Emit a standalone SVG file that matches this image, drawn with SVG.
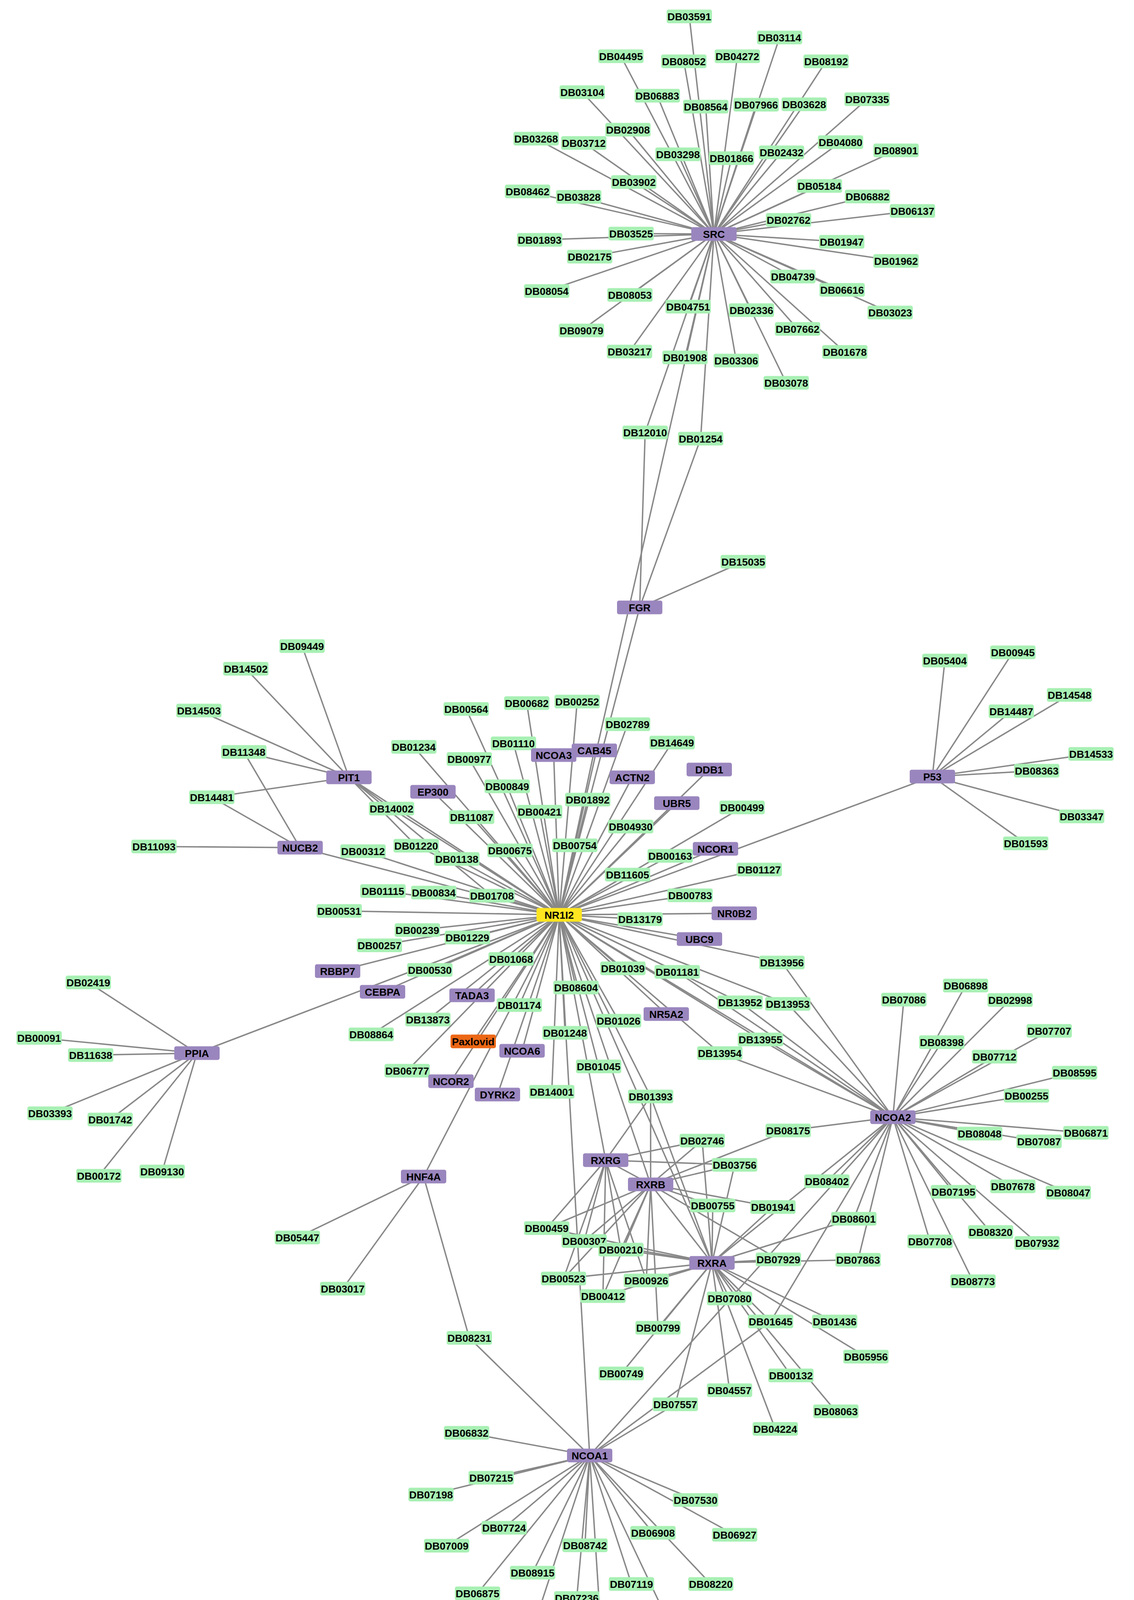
<svg xmlns="http://www.w3.org/2000/svg" width="2902" height="4282" viewBox="0 0 2902 4282">
<style>
.e line{stroke:#888888;stroke-width:3.6}
.d{fill:#A8F0B4}
.g{fill:#9A86BE}
.h{fill:#FFE620}
.p{fill:#EC6715}
text{font-family:"Liberation Sans",Arial,sans-serif;font-size:26.5px;font-weight:bold;text-anchor:middle;fill:#000000}
</style>
<defs>
<rect id="box" x="-58" y="-17.5" width="116" height="35" rx="5" ry="5"/>
</defs>
<rect width="2902" height="4282" fill="#ffffff"/>
<g id="edges" class="e">
<!-- SRC -->
<line x1="1827" y1="599" x2="1764" y2="42"/>
<line x1="1827" y1="599" x2="1589" y2="144"/>
<line x1="1827" y1="599" x2="1750" y2="157"/>
<line x1="1827" y1="599" x2="1887" y2="144"/>
<line x1="1827" y1="599" x2="1995" y2="96"/>
<line x1="1827" y1="599" x2="1490" y2="236"/>
<line x1="1827" y1="599" x2="1682" y2="245"/>
<line x1="1827" y1="599" x2="1806" y2="273"/>
<line x1="1827" y1="599" x2="1935" y2="268"/>
<line x1="1827" y1="599" x2="2058" y2="267"/>
<line x1="1827" y1="599" x2="2114" y2="157"/>
<line x1="1827" y1="599" x2="2219" y2="254"/>
<line x1="1827" y1="599" x2="1607" y2="332"/>
<line x1="1827" y1="599" x2="1372" y2="355"/>
<line x1="1827" y1="599" x2="1494" y2="366"/>
<line x1="1827" y1="599" x2="1735" y2="395"/>
<line x1="1827" y1="599" x2="1872" y2="405"/>
<line x1="1827" y1="599" x2="2000" y2="390"/>
<line x1="1827" y1="599" x2="2151" y2="364"/>
<line x1="1827" y1="599" x2="2293" y2="385"/>
<line x1="1827" y1="599" x2="1622" y2="466"/>
<line x1="1827" y1="599" x2="2097" y2="476"/>
<line x1="1827" y1="599" x2="2220" y2="503"/>
<line x1="1827" y1="599" x2="2335" y2="540"/>
<line x1="1827" y1="599" x2="1350" y2="490"/>
<line x1="1827" y1="599" x2="1481" y2="504"/>
<line x1="1827" y1="599" x2="2018" y2="563"/>
<line x1="1827" y1="599" x2="1381" y2="614"/>
<line x1="1827" y1="599" x2="1615" y2="598"/>
<line x1="1827" y1="599" x2="2154" y2="619"/>
<line x1="1827" y1="599" x2="2293" y2="668"/>
<line x1="1827" y1="599" x2="1509" y2="657"/>
<line x1="1827" y1="599" x2="2029" y2="708"/>
<line x1="1827" y1="599" x2="2155" y2="742"/>
<line x1="1827" y1="599" x2="2278" y2="800"/>
<line x1="1827" y1="599" x2="1399" y2="745"/>
<line x1="1827" y1="599" x2="1612" y2="755"/>
<line x1="1827" y1="599" x2="1488" y2="846"/>
<line x1="1827" y1="599" x2="1761" y2="785"/>
<line x1="1827" y1="599" x2="1923" y2="794"/>
<line x1="1827" y1="599" x2="2041" y2="842"/>
<line x1="1827" y1="599" x2="1611" y2="900"/>
<line x1="1827" y1="599" x2="1753" y2="915"/>
<line x1="1827" y1="599" x2="1884" y2="923"/>
<line x1="1827" y1="599" x2="2162" y2="901"/>
<line x1="1827" y1="599" x2="2012" y2="980"/>
<line x1="1827" y1="599" x2="1651" y2="1107"/>
<line x1="1827" y1="599" x2="1793" y2="1123"/>
<line x1="1827" y1="599" x2="1431" y2="2342"/>
<!-- FGR -->
<line x1="1637" y1="1555" x2="1651" y2="1107"/>
<line x1="1637" y1="1555" x2="1793" y2="1123"/>
<line x1="1637" y1="1555" x2="1902" y2="1438"/>
<line x1="1637" y1="1555" x2="1431" y2="2342"/>
<!-- P53 -->
<line x1="2386" y1="1988" x2="2418" y2="1691"/>
<line x1="2386" y1="1988" x2="2592" y2="1670"/>
<line x1="2386" y1="1988" x2="2737" y2="1779"/>
<line x1="2386" y1="1988" x2="2588" y2="1821"/>
<line x1="2386" y1="1988" x2="2792" y2="1930"/>
<line x1="2386" y1="1988" x2="2653" y2="1973"/>
<line x1="2386" y1="1988" x2="2768" y2="2090"/>
<line x1="2386" y1="1988" x2="2625" y2="2159"/>
<line x1="2386" y1="1988" x2="1431" y2="2342"/>
<!-- PIT1 / NUCB2 -->
<line x1="893" y1="1990" x2="773" y2="1654"/>
<line x1="893" y1="1990" x2="629" y2="1712"/>
<line x1="893" y1="1990" x2="509" y2="1819"/>
<line x1="893" y1="1990" x2="624" y2="1925"/>
<line x1="893" y1="1990" x2="542" y2="2041"/>
<line x1="893" y1="1990" x2="1431" y2="2342"/>
<line x1="893" y1="1990" x2="1002" y2="2070"/>
<line x1="893" y1="1990" x2="1065" y2="2165"/>
<line x1="893" y1="1990" x2="1259" y2="2293"/>
<line x1="768" y1="2170" x2="394" y2="2167"/>
<line x1="768" y1="2170" x2="542" y2="2041"/>
<line x1="768" y1="2170" x2="624" y2="1925"/>
<line x1="768" y1="2170" x2="1431" y2="2342"/>
<!-- NR1I2 -->
<line x1="1431" y1="2342" x2="1059" y2="1912"/>
<line x1="1431" y1="2342" x2="1193" y2="1815"/>
<line x1="1431" y1="2342" x2="1348" y2="1800"/>
<line x1="1431" y1="2342" x2="1477" y2="1796"/>
<line x1="1431" y1="2342" x2="1606" y2="1854"/>
<line x1="1431" y1="2342" x2="1314" y2="1903"/>
<line x1="1431" y1="2342" x2="1417" y2="1933"/>
<line x1="1431" y1="2342" x2="1521" y2="1921"/>
<line x1="1431" y1="2342" x2="1720" y2="1901"/>
<line x1="1431" y1="2342" x2="1201" y2="1943"/>
<line x1="1431" y1="2342" x2="1815" y2="1970"/>
<line x1="1431" y1="2342" x2="1618" y2="1990"/>
<line x1="1431" y1="2342" x2="1108" y2="2027"/>
<line x1="1431" y1="2342" x2="1298" y2="2013"/>
<line x1="1431" y1="2342" x2="1732" y2="2056"/>
<line x1="1431" y1="2342" x2="1504" y2="2047"/>
<line x1="1431" y1="2342" x2="1899" y2="2067"/>
<line x1="1431" y1="2342" x2="1381" y2="2078"/>
<line x1="1431" y1="2342" x2="1207" y2="2092"/>
<line x1="1431" y1="2342" x2="1614" y2="2116"/>
<line x1="1431" y1="2342" x2="1002" y2="2070"/>
<line x1="1431" y1="2342" x2="1471" y2="2164"/>
<line x1="1431" y1="2342" x2="1305" y2="2177"/>
<line x1="1431" y1="2342" x2="1831" y2="2173"/>
<line x1="1431" y1="2342" x2="1715" y2="2191"/>
<line x1="1431" y1="2342" x2="1943" y2="2226"/>
<line x1="1431" y1="2342" x2="1606" y2="2239"/>
<line x1="1431" y1="2342" x2="929" y2="2179"/>
<line x1="1431" y1="2342" x2="1065" y2="2165"/>
<line x1="1431" y1="2342" x2="1169" y2="2199"/>
<line x1="1431" y1="2342" x2="980" y2="2281"/>
<line x1="1431" y1="2342" x2="1110" y2="2285"/>
<line x1="1431" y1="2342" x2="1259" y2="2293"/>
<line x1="1431" y1="2342" x2="1766" y2="2292"/>
<line x1="1431" y1="2342" x2="868" y2="2332"/>
<line x1="1431" y1="2342" x2="1879" y2="2338"/>
<line x1="1431" y1="2342" x2="1638" y2="2353"/>
<line x1="1431" y1="2342" x2="1068" y2="2381"/>
<line x1="1431" y1="2342" x2="1196" y2="2400"/>
<line x1="1431" y1="2342" x2="971" y2="2420"/>
<line x1="1431" y1="2342" x2="1790" y2="2404"/>
<line x1="1431" y1="2342" x2="1308" y2="2455"/>
<line x1="1431" y1="2342" x2="2001" y2="2464"/>
<line x1="1431" y1="2342" x2="864" y2="2486"/>
<line x1="1431" y1="2342" x2="1100" y2="2483"/>
<line x1="1431" y1="2342" x2="1594" y2="2479"/>
<line x1="1431" y1="2342" x2="1733" y2="2488"/>
<line x1="1431" y1="2342" x2="1474" y2="2528"/>
<line x1="1431" y1="2342" x2="979" y2="2539"/>
<line x1="1431" y1="2342" x2="1208" y2="2548"/>
<line x1="1431" y1="2342" x2="1894" y2="2566"/>
<line x1="1431" y1="2342" x2="2016" y2="2570"/>
<line x1="1431" y1="2342" x2="1329" y2="2573"/>
<line x1="1431" y1="2342" x2="1705" y2="2596"/>
<line x1="1431" y1="2342" x2="1095" y2="2610"/>
<line x1="1431" y1="2342" x2="1583" y2="2613"/>
<line x1="1431" y1="2342" x2="950" y2="2648"/>
<line x1="1431" y1="2342" x2="1446" y2="2644"/>
<line x1="1431" y1="2342" x2="1946" y2="2661"/>
<line x1="1431" y1="2342" x2="1211" y2="2666"/>
<line x1="1431" y1="2342" x2="1336" y2="2690"/>
<line x1="1431" y1="2342" x2="1842" y2="2696"/>
<line x1="1431" y1="2342" x2="1532" y2="2730"/>
<line x1="1431" y1="2342" x2="1042" y2="2741"/>
<line x1="1431" y1="2342" x2="1154" y2="2768"/>
<line x1="1431" y1="2342" x2="1273" y2="2802"/>
<line x1="1431" y1="2342" x2="1412" y2="2795"/>
<line x1="1431" y1="2342" x2="1665" y2="2807"/>
<line x1="1431" y1="2342" x2="1084" y2="3012"/>
<line x1="1431" y1="2342" x2="1550" y2="2970"/>
<line x1="1431" y1="2342" x2="1665" y2="3032"/>
<line x1="1431" y1="2342" x2="1822" y2="3233"/>
<line x1="1431" y1="2342" x2="1509" y2="3726"/>
<line x1="1431" y1="2342" x2="2285" y2="2860"/>
<line x1="1431" y1="2342" x2="504" y2="2696"/>
<!-- NCOA2 -->
<line x1="2285" y1="2860" x2="2313" y2="2559"/>
<line x1="2285" y1="2860" x2="2471" y2="2523"/>
<line x1="2285" y1="2860" x2="2585" y2="2560"/>
<line x1="2285" y1="2860" x2="2410" y2="2668"/>
<line x1="2285" y1="2860" x2="2685" y2="2639"/>
<line x1="2285" y1="2860" x2="2545" y2="2705"/>
<line x1="2285" y1="2860" x2="2750" y2="2746"/>
<line x1="2285" y1="2860" x2="2627" y2="2805"/>
<line x1="2285" y1="2860" x2="2779" y2="2900"/>
<line x1="2285" y1="2860" x2="2507" y2="2902"/>
<line x1="2285" y1="2860" x2="2659" y2="2922"/>
<line x1="2285" y1="2860" x2="2440" y2="3051"/>
<line x1="2285" y1="2860" x2="2592" y2="3037"/>
<line x1="2285" y1="2860" x2="2734" y2="3053"/>
<line x1="2285" y1="2860" x2="2535" y2="3154"/>
<line x1="2285" y1="2860" x2="2654" y2="3182"/>
<line x1="2285" y1="2860" x2="2380" y2="3178"/>
<line x1="2285" y1="2860" x2="2490" y2="3280"/>
<line x1="2285" y1="2860" x2="2017" y2="2894"/>
<line x1="2285" y1="2860" x2="1894" y2="2566"/>
<line x1="2285" y1="2860" x2="2016" y2="2570"/>
<line x1="2285" y1="2860" x2="1842" y2="2696"/>
<line x1="2285" y1="2860" x2="1946" y2="2661"/>
<line x1="2285" y1="2860" x2="2001" y2="2464"/>
<line x1="2285" y1="2860" x2="1733" y2="2488"/>
<line x1="2285" y1="2860" x2="2116" y2="3024"/>
<line x1="2285" y1="2860" x2="1822" y2="3233"/>
<line x1="2285" y1="2860" x2="1509" y2="3726"/>
<line x1="2285" y1="2860" x2="2185" y2="3120"/>
<line x1="2285" y1="2860" x2="1972" y2="3383"/>
<line x1="2285" y1="2860" x2="2196" y2="3225"/>
<!-- RXRG -->
<line x1="1550" y1="2970" x2="1665" y2="2807"/>
<line x1="1550" y1="2970" x2="1797" y2="2920"/>
<line x1="1550" y1="2970" x2="1880" y2="2982"/>
<line x1="1550" y1="2970" x2="1665" y2="3032"/>
<line x1="1550" y1="2970" x2="1399" y2="3144"/>
<line x1="1550" y1="2970" x2="1495" y2="3177"/>
<line x1="1550" y1="2970" x2="1589" y2="3199"/>
<line x1="1550" y1="2970" x2="1442" y2="3273"/>
<line x1="1550" y1="2970" x2="1654" y2="3278"/>
<line x1="1550" y1="2970" x2="1543" y2="3318"/>
<!-- RXRB -->
<line x1="1665" y1="3032" x2="1665" y2="2807"/>
<line x1="1665" y1="3032" x2="1797" y2="2920"/>
<line x1="1665" y1="3032" x2="1880" y2="2982"/>
<line x1="1665" y1="3032" x2="2017" y2="2894"/>
<line x1="1665" y1="3032" x2="1824" y2="3086"/>
<line x1="1665" y1="3032" x2="1978" y2="3090"/>
<line x1="1665" y1="3032" x2="1992" y2="3224"/>
<line x1="1665" y1="3032" x2="1399" y2="3144"/>
<line x1="1665" y1="3032" x2="1495" y2="3177"/>
<line x1="1665" y1="3032" x2="1589" y2="3199"/>
<line x1="1665" y1="3032" x2="1442" y2="3273"/>
<line x1="1665" y1="3032" x2="1654" y2="3278"/>
<line x1="1665" y1="3032" x2="1543" y2="3318"/>
<line x1="1665" y1="3032" x2="1684" y2="3399"/>
<line x1="1665" y1="3032" x2="1822" y2="3233"/>
<!-- RXRA -->
<line x1="1822" y1="3233" x2="1665" y2="2807"/>
<line x1="1822" y1="3233" x2="1797" y2="2920"/>
<line x1="1822" y1="3233" x2="1880" y2="2982"/>
<line x1="1822" y1="3233" x2="1824" y2="3086"/>
<line x1="1822" y1="3233" x2="1978" y2="3090"/>
<line x1="1822" y1="3233" x2="2185" y2="3120"/>
<line x1="1822" y1="3233" x2="1992" y2="3224"/>
<line x1="1822" y1="3233" x2="2196" y2="3225"/>
<line x1="1822" y1="3233" x2="1399" y2="3144"/>
<line x1="1822" y1="3233" x2="1495" y2="3177"/>
<line x1="1822" y1="3233" x2="1589" y2="3199"/>
<line x1="1822" y1="3233" x2="1442" y2="3273"/>
<line x1="1822" y1="3233" x2="1654" y2="3278"/>
<line x1="1822" y1="3233" x2="1543" y2="3318"/>
<line x1="1822" y1="3233" x2="1867" y2="3324"/>
<line x1="1822" y1="3233" x2="1684" y2="3399"/>
<line x1="1822" y1="3233" x2="1590" y2="3516"/>
<line x1="1822" y1="3233" x2="1728" y2="3595"/>
<line x1="1822" y1="3233" x2="1867" y2="3559"/>
<line x1="1822" y1="3233" x2="1984" y2="3658"/>
<line x1="1822" y1="3233" x2="1972" y2="3383"/>
<line x1="1822" y1="3233" x2="2024" y2="3521"/>
<line x1="1822" y1="3233" x2="2139" y2="3613"/>
<line x1="1822" y1="3233" x2="2136" y2="3383"/>
<line x1="1822" y1="3233" x2="2216" y2="3473"/>
<!-- NCOA1 -->
<line x1="1509" y1="3726" x2="1194" y2="3668"/>
<line x1="1509" y1="3726" x2="1257" y2="3783"/>
<line x1="1509" y1="3726" x2="1103" y2="3826"/>
<line x1="1509" y1="3726" x2="1780" y2="3840"/>
<line x1="1509" y1="3726" x2="1880" y2="3929"/>
<line x1="1509" y1="3726" x2="1290" y2="3911"/>
<line x1="1509" y1="3726" x2="1143" y2="3957"/>
<line x1="1509" y1="3726" x2="1671" y2="3924"/>
<line x1="1509" y1="3726" x2="1819" y2="4055"/>
<line x1="1509" y1="3726" x2="1497" y2="3956"/>
<line x1="1509" y1="3726" x2="1476" y2="4091"/>
<line x1="1509" y1="3726" x2="1540" y2="4205"/>
<line x1="1509" y1="3726" x2="1363" y2="4026"/>
<line x1="1509" y1="3726" x2="1360" y2="4181"/>
<line x1="1509" y1="3726" x2="1616" y2="4055"/>
<line x1="1509" y1="3726" x2="1708" y2="4146"/>
<line x1="1509" y1="3726" x2="1222" y2="4079"/>
<line x1="1509" y1="3726" x2="1201" y2="3425"/>
<line x1="1509" y1="3726" x2="1728" y2="3595"/>
<line x1="1509" y1="3726" x2="1972" y2="3383"/>
<!-- HNF4A -->
<line x1="1084" y1="3012" x2="761" y2="3168"/>
<line x1="1084" y1="3012" x2="877" y2="3299"/>
<line x1="1084" y1="3012" x2="1201" y2="3425"/>
<!-- PPIA -->
<line x1="504" y1="2696" x2="226" y2="2515"/>
<line x1="504" y1="2696" x2="100" y2="2657"/>
<line x1="504" y1="2696" x2="232" y2="2701"/>
<line x1="504" y1="2696" x2="128" y2="2850"/>
<line x1="504" y1="2696" x2="282" y2="2866"/>
<line x1="504" y1="2696" x2="253" y2="3010"/>
<line x1="504" y1="2696" x2="415" y2="2999"/>
</g>
<g id="nodes">
<g id="SRC" class="g" transform="translate(1827,599)"><use href="#box"/><text y="9.5">SRC</text></g>
<g id="DB03591" class="d" transform="translate(1764,42)"><use href="#box"/><text y="9.5">DB03591</text></g>
<g id="DB04495" class="d" transform="translate(1589,144)"><use href="#box"/><text y="9.5">DB04495</text></g>
<g id="DB08052" class="d" transform="translate(1750,157)"><use href="#box"/><text y="9.5">DB08052</text></g>
<g id="DB04272" class="d" transform="translate(1887,144)"><use href="#box"/><text y="9.5">DB04272</text></g>
<g id="DB03114" class="d" transform="translate(1995,96)"><use href="#box"/><text y="9.5">DB03114</text></g>
<g id="DB03104" class="d" transform="translate(1490,236)"><use href="#box"/><text y="9.5">DB03104</text></g>
<g id="DB06883" class="d" transform="translate(1682,245)"><use href="#box"/><text y="9.5">DB06883</text></g>
<g id="DB08564" class="d" transform="translate(1806,273)"><use href="#box"/><text y="9.5">DB08564</text></g>
<g id="DB07966" class="d" transform="translate(1935,268)"><use href="#box"/><text y="9.5">DB07966</text></g>
<g id="DB03628" class="d" transform="translate(2058,267)"><use href="#box"/><text y="9.5">DB03628</text></g>
<g id="DB08192" class="d" transform="translate(2114,157)"><use href="#box"/><text y="9.5">DB08192</text></g>
<g id="DB07335" class="d" transform="translate(2219,254)"><use href="#box"/><text y="9.5">DB07335</text></g>
<g id="DB02908" class="d" transform="translate(1607,332)"><use href="#box"/><text y="9.5">DB02908</text></g>
<g id="DB03268" class="d" transform="translate(1372,355)"><use href="#box"/><text y="9.5">DB03268</text></g>
<g id="DB03712" class="d" transform="translate(1494,366)"><use href="#box"/><text y="9.5">DB03712</text></g>
<g id="DB03298" class="d" transform="translate(1735,395)"><use href="#box"/><text y="9.5">DB03298</text></g>
<g id="DB01866" class="d" transform="translate(1872,405)"><use href="#box"/><text y="9.5">DB01866</text></g>
<g id="DB02432" class="d" transform="translate(2000,390)"><use href="#box"/><text y="9.5">DB02432</text></g>
<g id="DB04080" class="d" transform="translate(2151,364)"><use href="#box"/><text y="9.5">DB04080</text></g>
<g id="DB08901" class="d" transform="translate(2293,385)"><use href="#box"/><text y="9.5">DB08901</text></g>
<g id="DB03902" class="d" transform="translate(1622,466)"><use href="#box"/><text y="9.5">DB03902</text></g>
<g id="DB05184" class="d" transform="translate(2097,476)"><use href="#box"/><text y="9.5">DB05184</text></g>
<g id="DB06882" class="d" transform="translate(2220,503)"><use href="#box"/><text y="9.5">DB06882</text></g>
<g id="DB06137" class="d" transform="translate(2335,540)"><use href="#box"/><text y="9.5">DB06137</text></g>
<g id="DB08462" class="d" transform="translate(1350,490)"><use href="#box"/><text y="9.5">DB08462</text></g>
<g id="DB03828" class="d" transform="translate(1481,504)"><use href="#box"/><text y="9.5">DB03828</text></g>
<g id="DB02762" class="d" transform="translate(2018,563)"><use href="#box"/><text y="9.5">DB02762</text></g>
<g id="DB01893" class="d" transform="translate(1381,614)"><use href="#box"/><text y="9.5">DB01893</text></g>
<g id="DB03525" class="d" transform="translate(1615,598)"><use href="#box"/><text y="9.5">DB03525</text></g>
<g id="DB01947" class="d" transform="translate(2154,619)"><use href="#box"/><text y="9.5">DB01947</text></g>
<g id="DB01962" class="d" transform="translate(2293,668)"><use href="#box"/><text y="9.5">DB01962</text></g>
<g id="DB02175" class="d" transform="translate(1509,657)"><use href="#box"/><text y="9.5">DB02175</text></g>
<g id="DB04739" class="d" transform="translate(2029,708)"><use href="#box"/><text y="9.5">DB04739</text></g>
<g id="DB06616" class="d" transform="translate(2155,742)"><use href="#box"/><text y="9.5">DB06616</text></g>
<g id="DB03023" class="d" transform="translate(2278,800)"><use href="#box"/><text y="9.5">DB03023</text></g>
<g id="DB08054" class="d" transform="translate(1399,745)"><use href="#box"/><text y="9.5">DB08054</text></g>
<g id="DB08053" class="d" transform="translate(1612,755)"><use href="#box"/><text y="9.5">DB08053</text></g>
<g id="DB09079" class="d" transform="translate(1488,846)"><use href="#box"/><text y="9.5">DB09079</text></g>
<g id="DB04751" class="d" transform="translate(1761,785)"><use href="#box"/><text y="9.5">DB04751</text></g>
<g id="DB02336" class="d" transform="translate(1923,794)"><use href="#box"/><text y="9.5">DB02336</text></g>
<g id="DB07662" class="d" transform="translate(2041,842)"><use href="#box"/><text y="9.5">DB07662</text></g>
<g id="DB03217" class="d" transform="translate(1611,900)"><use href="#box"/><text y="9.5">DB03217</text></g>
<g id="DB01908" class="d" transform="translate(1753,915)"><use href="#box"/><text y="9.5">DB01908</text></g>
<g id="DB03306" class="d" transform="translate(1884,923)"><use href="#box"/><text y="9.5">DB03306</text></g>
<g id="DB01678" class="d" transform="translate(2162,901)"><use href="#box"/><text y="9.5">DB01678</text></g>
<g id="DB03078" class="d" transform="translate(2012,980)"><use href="#box"/><text y="9.5">DB03078</text></g>
<g id="DB12010" class="d" transform="translate(1651,1107)"><use href="#box"/><text y="9.5">DB12010</text></g>
<g id="DB01254" class="d" transform="translate(1793,1123)"><use href="#box"/><text y="9.5">DB01254</text></g>
<g id="DB15035" class="d" transform="translate(1902,1438)"><use href="#box"/><text y="9.5">DB15035</text></g>
<g id="FGR" class="g" transform="translate(1637,1555)"><use href="#box"/><text y="9.5">FGR</text></g>
<g id="P53" class="g" transform="translate(2386,1988)"><use href="#box"/><text y="9.5">P53</text></g>
<g id="DB05404" class="d" transform="translate(2418,1691)"><use href="#box"/><text y="9.5">DB05404</text></g>
<g id="DB00945" class="d" transform="translate(2592,1670)"><use href="#box"/><text y="9.5">DB00945</text></g>
<g id="DB14548" class="d" transform="translate(2737,1779)"><use href="#box"/><text y="9.5">DB14548</text></g>
<g id="DB14487" class="d" transform="translate(2588,1821)"><use href="#box"/><text y="9.5">DB14487</text></g>
<g id="DB14533" class="d" transform="translate(2792,1930)"><use href="#box"/><text y="9.5">DB14533</text></g>
<g id="DB08363" class="d" transform="translate(2653,1973)"><use href="#box"/><text y="9.5">DB08363</text></g>
<g id="DB03347" class="d" transform="translate(2768,2090)"><use href="#box"/><text y="9.5">DB03347</text></g>
<g id="DB01593" class="d" transform="translate(2625,2159)"><use href="#box"/><text y="9.5">DB01593</text></g>
<g id="DB09449" class="d" transform="translate(773,1654)"><use href="#box"/><text y="9.5">DB09449</text></g>
<g id="DB14502" class="d" transform="translate(629,1712)"><use href="#box"/><text y="9.5">DB14502</text></g>
<g id="DB14503" class="d" transform="translate(509,1819)"><use href="#box"/><text y="9.5">DB14503</text></g>
<g id="DB11348" class="d" transform="translate(624,1925)"><use href="#box"/><text y="9.5">DB11348</text></g>
<g id="PIT1" class="g" transform="translate(893,1990)"><use href="#box"/><text y="9.5">PIT1</text></g>
<g id="DB14481" class="d" transform="translate(542,2041)"><use href="#box"/><text y="9.5">DB14481</text></g>
<g id="NUCB2" class="g" transform="translate(768,2170)"><use href="#box"/><text y="9.5">NUCB2</text></g>
<g id="DB11093" class="d" transform="translate(394,2167)"><use href="#box"/><text y="9.5">DB11093</text></g>
<g id="DB01234" class="d" transform="translate(1059,1912)"><use href="#box"/><text y="9.5">DB01234</text></g>
<g id="DB00564" class="d" transform="translate(1193,1815)"><use href="#box"/><text y="9.5">DB00564</text></g>
<g id="DB00682" class="d" transform="translate(1348,1800)"><use href="#box"/><text y="9.5">DB00682</text></g>
<g id="DB00252" class="d" transform="translate(1477,1796)"><use href="#box"/><text y="9.5">DB00252</text></g>
<g id="DB02789" class="d" transform="translate(1606,1854)"><use href="#box"/><text y="9.5">DB02789</text></g>
<g id="DB01110" class="d" transform="translate(1314,1903)"><use href="#box"/><text y="9.5">DB01110</text></g>
<g id="NCOA3" class="g" transform="translate(1417,1933)"><use href="#box"/><text y="9.5">NCOA3</text></g>
<g id="CAB45" class="g" transform="translate(1521,1921)"><use href="#box"/><text y="9.5">CAB45</text></g>
<g id="DB14649" class="d" transform="translate(1720,1901)"><use href="#box"/><text y="9.5">DB14649</text></g>
<g id="DB00977" class="d" transform="translate(1201,1943)"><use href="#box"/><text y="9.5">DB00977</text></g>
<g id="DDB1" class="g" transform="translate(1815,1970)"><use href="#box"/><text y="9.5">DDB1</text></g>
<g id="ACTN2" class="g" transform="translate(1618,1990)"><use href="#box"/><text y="9.5">ACTN2</text></g>
<g id="EP300" class="g" transform="translate(1108,2027)"><use href="#box"/><text y="9.5">EP300</text></g>
<g id="DB00849" class="d" transform="translate(1298,2013)"><use href="#box"/><text y="9.5">DB00849</text></g>
<g id="UBR5" class="g" transform="translate(1732,2056)"><use href="#box"/><text y="9.5">UBR5</text></g>
<g id="DB01892" class="d" transform="translate(1504,2047)"><use href="#box"/><text y="9.5">DB01892</text></g>
<g id="DB00499" class="d" transform="translate(1899,2067)"><use href="#box"/><text y="9.5">DB00499</text></g>
<g id="DB00421" class="d" transform="translate(1381,2078)"><use href="#box"/><text y="9.5">DB00421</text></g>
<g id="DB11087" class="d" transform="translate(1207,2092)"><use href="#box"/><text y="9.5">DB11087</text></g>
<g id="DB04930" class="d" transform="translate(1614,2116)"><use href="#box"/><text y="9.5">DB04930</text></g>
<g id="DB14002" class="d" transform="translate(1002,2070)"><use href="#box"/><text y="9.5">DB14002</text></g>
<g id="DB00754" class="d" transform="translate(1471,2164)"><use href="#box"/><text y="9.5">DB00754</text></g>
<g id="DB00675" class="d" transform="translate(1305,2177)"><use href="#box"/><text y="9.5">DB00675</text></g>
<g id="NCOR1" class="g" transform="translate(1831,2173)"><use href="#box"/><text y="9.5">NCOR1</text></g>
<g id="DB00163" class="d" transform="translate(1715,2191)"><use href="#box"/><text y="9.5">DB00163</text></g>
<g id="DB01127" class="d" transform="translate(1943,2226)"><use href="#box"/><text y="9.5">DB01127</text></g>
<g id="DB11605" class="d" transform="translate(1606,2239)"><use href="#box"/><text y="9.5">DB11605</text></g>
<g id="DB00312" class="d" transform="translate(929,2179)"><use href="#box"/><text y="9.5">DB00312</text></g>
<g id="DB01220" class="d" transform="translate(1065,2165)"><use href="#box"/><text y="9.5">DB01220</text></g>
<g id="DB01138" class="d" transform="translate(1169,2199)"><use href="#box"/><text y="9.5">DB01138</text></g>
<g id="DB01115" class="d" transform="translate(980,2281)"><use href="#box"/><text y="9.5">DB01115</text></g>
<g id="DB00834" class="d" transform="translate(1110,2285)"><use href="#box"/><text y="9.5">DB00834</text></g>
<g id="DB01708" class="d" transform="translate(1259,2293)"><use href="#box"/><text y="9.5">DB01708</text></g>
<g id="DB00783" class="d" transform="translate(1766,2292)"><use href="#box"/><text y="9.5">DB00783</text></g>
<g id="DB00531" class="d" transform="translate(868,2332)"><use href="#box"/><text y="9.5">DB00531</text></g>
<g id="NR0B2" class="g" transform="translate(1879,2338)"><use href="#box"/><text y="9.5">NR0B2</text></g>
<g id="DB13179" class="d" transform="translate(1638,2353)"><use href="#box"/><text y="9.5">DB13179</text></g>
<g id="DB00239" class="d" transform="translate(1068,2381)"><use href="#box"/><text y="9.5">DB00239</text></g>
<g id="DB01229" class="d" transform="translate(1196,2400)"><use href="#box"/><text y="9.5">DB01229</text></g>
<g id="DB00257" class="d" transform="translate(971,2420)"><use href="#box"/><text y="9.5">DB00257</text></g>
<g id="UBC9" class="g" transform="translate(1790,2404)"><use href="#box"/><text y="9.5">UBC9</text></g>
<g id="DB01068" class="d" transform="translate(1308,2455)"><use href="#box"/><text y="9.5">DB01068</text></g>
<g id="DB13956" class="d" transform="translate(2001,2464)"><use href="#box"/><text y="9.5">DB13956</text></g>
<g id="RBBP7" class="g" transform="translate(864,2486)"><use href="#box"/><text y="9.5">RBBP7</text></g>
<g id="DB00530" class="d" transform="translate(1100,2483)"><use href="#box"/><text y="9.5">DB00530</text></g>
<g id="DB01039" class="d" transform="translate(1594,2479)"><use href="#box"/><text y="9.5">DB01039</text></g>
<g id="DB01181" class="d" transform="translate(1733,2488)"><use href="#box"/><text y="9.5">DB01181</text></g>
<g id="DB08604" class="d" transform="translate(1474,2528)"><use href="#box"/><text y="9.5">DB08604</text></g>
<g id="CEBPA" class="g" transform="translate(979,2539)"><use href="#box"/><text y="9.5">CEBPA</text></g>
<g id="TADA3" class="g" transform="translate(1208,2548)"><use href="#box"/><text y="9.5">TADA3</text></g>
<g id="DB13952" class="d" transform="translate(1894,2566)"><use href="#box"/><text y="9.5">DB13952</text></g>
<g id="DB13953" class="d" transform="translate(2016,2570)"><use href="#box"/><text y="9.5">DB13953</text></g>
<g id="DB01174" class="d" transform="translate(1329,2573)"><use href="#box"/><text y="9.5">DB01174</text></g>
<g id="NR5A2" class="g" transform="translate(1705,2596)"><use href="#box"/><text y="9.5">NR5A2</text></g>
<g id="DB13873" class="d" transform="translate(1095,2610)"><use href="#box"/><text y="9.5">DB13873</text></g>
<g id="DB01026" class="d" transform="translate(1583,2613)"><use href="#box"/><text y="9.5">DB01026</text></g>
<g id="DB08864" class="d" transform="translate(950,2648)"><use href="#box"/><text y="9.5">DB08864</text></g>
<g id="DB01248" class="d" transform="translate(1446,2644)"><use href="#box"/><text y="9.5">DB01248</text></g>
<g id="DB13955" class="d" transform="translate(1946,2661)"><use href="#box"/><text y="9.5">DB13955</text></g>
<g id="Paxlovid" class="p" transform="translate(1211,2666)"><use href="#box"/><text y="9.5">Paxlovid</text></g>
<g id="NCOA6" class="g" transform="translate(1336,2690)"><use href="#box"/><text y="9.5">NCOA6</text></g>
<g id="DB13954" class="d" transform="translate(1842,2696)"><use href="#box"/><text y="9.5">DB13954</text></g>
<g id="DB01045" class="d" transform="translate(1532,2730)"><use href="#box"/><text y="9.5">DB01045</text></g>
<g id="DB06777" class="d" transform="translate(1042,2741)"><use href="#box"/><text y="9.5">DB06777</text></g>
<g id="NCOR2" class="g" transform="translate(1154,2768)"><use href="#box"/><text y="9.5">NCOR2</text></g>
<g id="DYRK2" class="g" transform="translate(1273,2802)"><use href="#box"/><text y="9.5">DYRK2</text></g>
<g id="DB14001" class="d" transform="translate(1412,2795)"><use href="#box"/><text y="9.5">DB14001</text></g>
<g id="DB01393" class="d" transform="translate(1665,2807)"><use href="#box"/><text y="9.5">DB01393</text></g>
<g id="NR1I2" class="h" transform="translate(1431,2342)"><use href="#box"/><text y="9.5">NR1I2</text></g>
<g id="DB02419" class="d" transform="translate(226,2515)"><use href="#box"/><text y="9.5">DB02419</text></g>
<g id="DB00091" class="d" transform="translate(100,2657)"><use href="#box"/><text y="9.5">DB00091</text></g>
<g id="DB11638" class="d" transform="translate(232,2701)"><use href="#box"/><text y="9.5">DB11638</text></g>
<g id="PPIA" class="g" transform="translate(504,2696)"><use href="#box"/><text y="9.5">PPIA</text></g>
<g id="DB03393" class="d" transform="translate(128,2850)"><use href="#box"/><text y="9.5">DB03393</text></g>
<g id="DB01742" class="d" transform="translate(282,2866)"><use href="#box"/><text y="9.5">DB01742</text></g>
<g id="DB00172" class="d" transform="translate(253,3010)"><use href="#box"/><text y="9.5">DB00172</text></g>
<g id="DB09130" class="d" transform="translate(415,2999)"><use href="#box"/><text y="9.5">DB09130</text></g>
<g id="DB06898" class="d" transform="translate(2471,2523)"><use href="#box"/><text y="9.5">DB06898</text></g>
<g id="DB07086" class="d" transform="translate(2313,2559)"><use href="#box"/><text y="9.5">DB07086</text></g>
<g id="DB02998" class="d" transform="translate(2585,2560)"><use href="#box"/><text y="9.5">DB02998</text></g>
<g id="DB07707" class="d" transform="translate(2685,2639)"><use href="#box"/><text y="9.5">DB07707</text></g>
<g id="DB08398" class="d" transform="translate(2410,2668)"><use href="#box"/><text y="9.5">DB08398</text></g>
<g id="DB07712" class="d" transform="translate(2545,2705)"><use href="#box"/><text y="9.5">DB07712</text></g>
<g id="DB08595" class="d" transform="translate(2750,2746)"><use href="#box"/><text y="9.5">DB08595</text></g>
<g id="DB00255" class="d" transform="translate(2627,2805)"><use href="#box"/><text y="9.5">DB00255</text></g>
<g id="NCOA2" class="g" transform="translate(2285,2860)"><use href="#box"/><text y="9.5">NCOA2</text></g>
<g id="DB08175" class="d" transform="translate(2017,2894)"><use href="#box"/><text y="9.5">DB08175</text></g>
<g id="DB06871" class="d" transform="translate(2779,2900)"><use href="#box"/><text y="9.5">DB06871</text></g>
<g id="DB08048" class="d" transform="translate(2507,2902)"><use href="#box"/><text y="9.5">DB08048</text></g>
<g id="DB07087" class="d" transform="translate(2659,2922)"><use href="#box"/><text y="9.5">DB07087</text></g>
<g id="DB07195" class="d" transform="translate(2440,3051)"><use href="#box"/><text y="9.5">DB07195</text></g>
<g id="DB07678" class="d" transform="translate(2592,3037)"><use href="#box"/><text y="9.5">DB07678</text></g>
<g id="DB08047" class="d" transform="translate(2734,3053)"><use href="#box"/><text y="9.5">DB08047</text></g>
<g id="DB08320" class="d" transform="translate(2535,3154)"><use href="#box"/><text y="9.5">DB08320</text></g>
<g id="DB07708" class="d" transform="translate(2380,3178)"><use href="#box"/><text y="9.5">DB07708</text></g>
<g id="DB07932" class="d" transform="translate(2654,3182)"><use href="#box"/><text y="9.5">DB07932</text></g>
<g id="DB08773" class="d" transform="translate(2490,3280)"><use href="#box"/><text y="9.5">DB08773</text></g>
<g id="DB02746" class="d" transform="translate(1797,2920)"><use href="#box"/><text y="9.5">DB02746</text></g>
<g id="RXRG" class="g" transform="translate(1550,2970)"><use href="#box"/><text y="9.5">RXRG</text></g>
<g id="DB03756" class="d" transform="translate(1880,2982)"><use href="#box"/><text y="9.5">DB03756</text></g>
<g id="RXRB" class="g" transform="translate(1665,3032)"><use href="#box"/><text y="9.5">RXRB</text></g>
<g id="DB08402" class="d" transform="translate(2116,3024)"><use href="#box"/><text y="9.5">DB08402</text></g>
<g id="DB00755" class="d" transform="translate(1824,3086)"><use href="#box"/><text y="9.5">DB00755</text></g>
<g id="DB01941" class="d" transform="translate(1978,3090)"><use href="#box"/><text y="9.5">DB01941</text></g>
<g id="DB08601" class="d" transform="translate(2185,3120)"><use href="#box"/><text y="9.5">DB08601</text></g>
<g id="DB00459" class="d" transform="translate(1399,3144)"><use href="#box"/><text y="9.5">DB00459</text></g>
<g id="DB00307" class="d" transform="translate(1495,3177)"><use href="#box"/><text y="9.5">DB00307</text></g>
<g id="DB00210" class="d" transform="translate(1589,3199)"><use href="#box"/><text y="9.5">DB00210</text></g>
<g id="RXRA" class="g" transform="translate(1822,3233)"><use href="#box"/><text y="9.5">RXRA</text></g>
<g id="DB07929" class="d" transform="translate(1992,3224)"><use href="#box"/><text y="9.5">DB07929</text></g>
<g id="DB07863" class="d" transform="translate(2196,3225)"><use href="#box"/><text y="9.5">DB07863</text></g>
<g id="DB00523" class="d" transform="translate(1442,3273)"><use href="#box"/><text y="9.5">DB00523</text></g>
<g id="DB00926" class="d" transform="translate(1654,3278)"><use href="#box"/><text y="9.5">DB00926</text></g>
<g id="DB00412" class="d" transform="translate(1543,3318)"><use href="#box"/><text y="9.5">DB00412</text></g>
<g id="DB07080" class="d" transform="translate(1867,3324)"><use href="#box"/><text y="9.5">DB07080</text></g>
<g id="DB01645" class="d" transform="translate(1972,3383)"><use href="#box"/><text y="9.5">DB01645</text></g>
<g id="DB01436" class="d" transform="translate(2136,3383)"><use href="#box"/><text y="9.5">DB01436</text></g>
<g id="DB00799" class="d" transform="translate(1684,3399)"><use href="#box"/><text y="9.5">DB00799</text></g>
<g id="DB05956" class="d" transform="translate(2216,3473)"><use href="#box"/><text y="9.5">DB05956</text></g>
<g id="DB00749" class="d" transform="translate(1590,3516)"><use href="#box"/><text y="9.5">DB00749</text></g>
<g id="DB00132" class="d" transform="translate(2024,3521)"><use href="#box"/><text y="9.5">DB00132</text></g>
<g id="DB04557" class="d" transform="translate(1867,3559)"><use href="#box"/><text y="9.5">DB04557</text></g>
<g id="DB07557" class="d" transform="translate(1728,3595)"><use href="#box"/><text y="9.5">DB07557</text></g>
<g id="DB08063" class="d" transform="translate(2139,3613)"><use href="#box"/><text y="9.5">DB08063</text></g>
<g id="DB04224" class="d" transform="translate(1984,3658)"><use href="#box"/><text y="9.5">DB04224</text></g>
<g id="HNF4A" class="g" transform="translate(1084,3012)"><use href="#box"/><text y="9.5">HNF4A</text></g>
<g id="DB05447" class="d" transform="translate(761,3168)"><use href="#box"/><text y="9.5">DB05447</text></g>
<g id="DB03017" class="d" transform="translate(877,3299)"><use href="#box"/><text y="9.5">DB03017</text></g>
<g id="DB08231" class="d" transform="translate(1201,3425)"><use href="#box"/><text y="9.5">DB08231</text></g>
<g id="DB06832" class="d" transform="translate(1194,3668)"><use href="#box"/><text y="9.5">DB06832</text></g>
<g id="NCOA1" class="g" transform="translate(1509,3726)"><use href="#box"/><text y="9.5">NCOA1</text></g>
<g id="DB07215" class="d" transform="translate(1257,3783)"><use href="#box"/><text y="9.5">DB07215</text></g>
<g id="DB07198" class="d" transform="translate(1103,3826)"><use href="#box"/><text y="9.5">DB07198</text></g>
<g id="DB07530" class="d" transform="translate(1780,3840)"><use href="#box"/><text y="9.5">DB07530</text></g>
<g id="DB07724" class="d" transform="translate(1290,3911)"><use href="#box"/><text y="9.5">DB07724</text></g>
<g id="DB06908" class="d" transform="translate(1671,3924)"><use href="#box"/><text y="9.5">DB06908</text></g>
<g id="DB06927" class="d" transform="translate(1880,3929)"><use href="#box"/><text y="9.5">DB06927</text></g>
<g id="DB07009" class="d" transform="translate(1143,3957)"><use href="#box"/><text y="9.5">DB07009</text></g>
<g id="DB08742" class="d" transform="translate(1497,3956)"><use href="#box"/><text y="9.5">DB08742</text></g>
<g id="DB08915" class="d" transform="translate(1363,4026)"><use href="#box"/><text y="9.5">DB08915</text></g>
<g id="DB07119" class="d" transform="translate(1616,4055)"><use href="#box"/><text y="9.5">DB07119</text></g>
<g id="DB08220" class="d" transform="translate(1819,4055)"><use href="#box"/><text y="9.5">DB08220</text></g>
<g id="DB06875" class="d" transform="translate(1222,4079)"><use href="#box"/><text y="9.5">DB06875</text></g>
<g id="DB07236" class="d" transform="translate(1476,4091)"><use href="#box"/><text y="9.5">DB07236</text></g>
<g id="DB07150" class="d" transform="translate(1708,4146)"><use href="#box"/><text y="9.5">DB07150</text></g>
<g id="DB04652" class="d" transform="translate(1360,4181)"><use href="#box"/><text y="9.5">DB04652</text></g>
<g id="DB07230" class="d" transform="translate(1540,4205)"><use href="#box"/><text y="9.5">DB07230</text></g>
</g>
</svg>
